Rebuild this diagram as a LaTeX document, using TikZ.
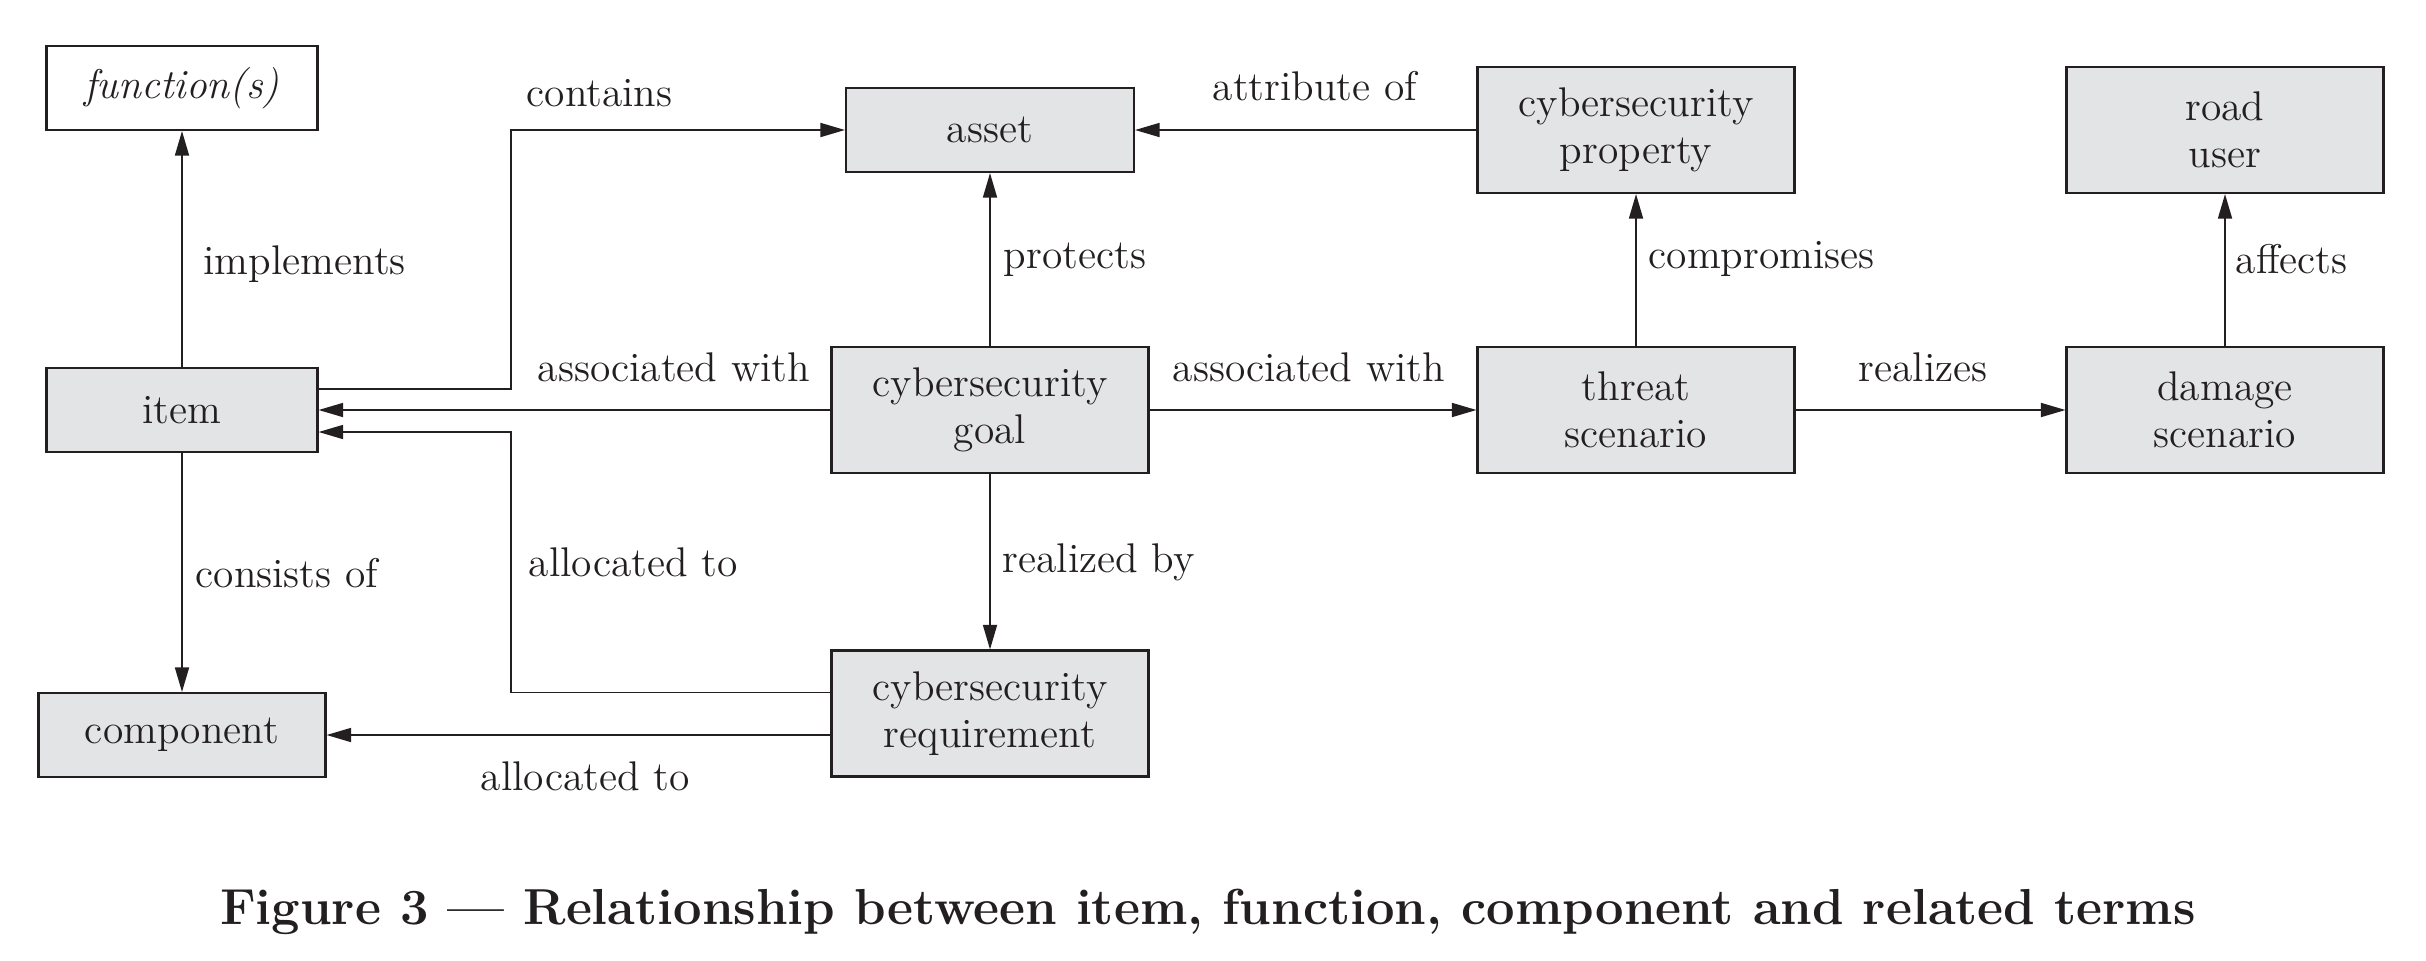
\documentclass[tikz,border=0pt]{standalone}
\usepackage{tikz}
\usetikzlibrary{positioning}
\usetikzlibrary{calc}
\usetikzlibrary{arrows.meta}
\definecolor{boxGray}{RGB}{227,228,230}
\definecolor{inkDark}{RGB}{35,31,32}
\tikzset{boxTerm/.style={draw=inkDark, line width=0.6pt, fill=boxGray, minimum width=2.71cm, minimum height=0.84cm, inner sep=0pt, align=center, text=inkDark, font=\fontsize{11.8}{13.3}\selectfont}}
\tikzset{boxWide/.style={boxTerm, minimum width=3.17cm, minimum height=1.26cm}}
\tikzset{boxFunc/.style={boxTerm, fill=white}}
\tikzset{relArrow/.style={draw=inkDark, line width=0.45pt, -{Triangle[length=7pt,width=4pt]}}}
\tikzset{relLabel/.style={anchor=base west, inner sep=0pt, text=inkDark, font=\fontsize{11.8}{13.3}\selectfont}}

\begin{document}
\begin{tikzpicture}

\useasboundingbox (0, 0) rectangle (24.26, 9.60);

\node[boxFunc] (func) at (1.82, 8.72) {\itshape function(s)};
\node[boxTerm] (item) at (1.82, 5.50) {item};
\node[boxTerm, minimum width=2.87cm] (comp) at (1.82, 2.25) {component};

\node[boxTerm, minimum width=2.88cm] (asset) at (9.90, 8.30) {asset};
\node[boxWide] (goal) at (9.90, 5.50) {cybersecurity\\goal};
\node[boxWide] (req) at (9.90, 2.465) {cybersecurity\\requirement};

\node[boxWide] (prop) at (16.36, 8.30) {cybersecurity\\property};
\node[boxWide] (threat) at (16.36, 5.50) {threat\\scenario};

\node[boxWide] (road) at (22.25, 8.30) {road\\user};
\node[boxWide] (damage) at (22.25, 5.50) {damage\\scenario};

% bends of the two routed connectors
\coordinate (bus) at (5.11, 0);
\coordinate (itemLow) at ([yshift=-2.2mm]item.east);

\draw[relArrow] (item) to (func);
\draw[relArrow] (item) to (comp);
\draw[relArrow] ([yshift=2.1mm]item.east) -| (bus |- asset.west) -- (asset.west);
\draw[relArrow] (goal) to (item);
\draw[relArrow] ([yshift=2.1mm]req.west) -| (bus |- itemLow) -- (itemLow);
\draw[relArrow] (req.west |- comp.east) -- (comp.east);
\draw[relArrow] (goal) to (asset);
\draw[relArrow] (goal) to (req);
\draw[relArrow] (prop) to (asset);
\draw[relArrow] (goal) to (threat);
\draw[relArrow] (threat) to (prop);
\draw[relArrow] (threat) to (damage);
\draw[relArrow] (damage) to (road);

\node[relLabel] (lImpl) at (2.03, 6.86) {implements};
\node[relLabel] (lCons) at (1.95, 3.73) {consists of};
\node[relLabel] (lCont) at (5.26, 8.54) {contains};
\node[relLabel] (lAssA) at (5.37, 5.79) {associated with};
\node[relLabel] (lAllA) at (5.28, 3.84) {allocated to};
\node[relLabel] (lAllB) at (4.80, 1.70) {allocated to};
\node[relLabel] (lProt) at (10.03, 6.92) {protects};
\node[relLabel] (lReal) at (10.02, 3.88) {realized by};
\node[relLabel] (lAttr) at (12.12, 8.60) {attribute of};
\node[relLabel] (lAssB) at (11.72, 5.79) {associated with};
\node[relLabel] (lComp) at (16.48, 6.92) {compromises};
\node[relLabel] (lRlz) at (18.58, 5.79) {realizes};
\node[relLabel] (lAff) at (22.35, 6.87) {affects};

\node[anchor=base, inner sep=0pt, text=inkDark, font=\fontsize{14.4}{16}\selectfont\bfseries] (caption) at (12.08, 0.36) {Figure 3 \textemdash{} Relationship between item, function, component and related terms};

\end{tikzpicture}
\end{document}
